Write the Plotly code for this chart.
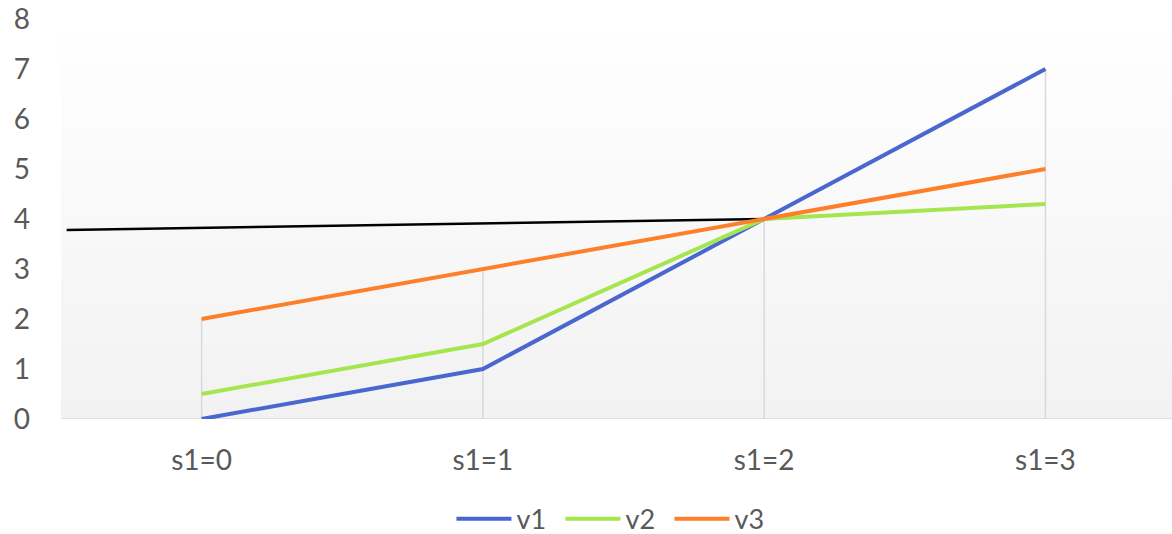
import plotly.graph_objects as go

categories = ["s1=0", "s1=1", "s1=2", "s1=3"]
v1 = [0, 1, 4, 7]
v2 = [0.5, 1.5, 4, 4.3]
v3 = [2, 3, 4, 5]
ref_x = [-0.48, 2]
ref_y = [3.78, 4.0]
y_ticks = [0, 1, 2, 3, 4, 5, 6, 7, 8]

colors = {"v1": "#4a66cf", "v2": "#a5e64f", "v3": "#fe7f29"}
font_color = "#595959"

xs = list(range(len(categories)))
fig = go.Figure()

# drop lines from highest value to axis
dx, dy = [], []
for i in xs:
    top = max(v1[i], v2[i], v3[i])
    dx += [i, i, None]
    dy += [0, top, None]
fig.add_trace(go.Scatter(x=dx, y=dy, mode="lines", line=dict(color="#d9d9d9", width=1.5),
                         showlegend=False, hoverinfo="skip"))

fig.add_trace(go.Scatter(x=ref_x, y=ref_y, mode="lines", line=dict(color="black", width=2.5),
                         showlegend=False))

for name, vals in (("v1", v1), ("v2", v2), ("v3", v3)):
    fig.add_trace(go.Scatter(x=xs, y=vals, mode="lines", name=name,
                             line=dict(color=colors[name], width=4)))

# gradient background
shapes = []
n = 80
ymax = 8
for k in range(n):
    y0 = ymax * k / n
    y1 = ymax * (k + 1) / n
    t = (k + 0.5) / n
    c = int(round(242 + (255 - 242) * t))
    shapes.append(dict(type="rect", xref="paper", yref="y", x0=0, x1=1, y0=y0, y1=y1,
                       fillcolor=f"rgb({c},{c},{c})", line=dict(width=0), layer="below"))

fig.update_layout(
    width=1172, height=534,
    margin=dict(l=61, r=0, t=19, b=115, autoexpand=False),
    paper_bgcolor="white", plot_bgcolor="white",
    font=dict(family="Lato", size=28, color=font_color),
    shapes=shapes,
    showlegend=True,
    legend=dict(orientation="h", x=0.4986, xanchor="center", y=-0.312, yanchor="bottom",
                font=dict(size=27, color=font_color), itemwidth=55, entrywidth=39,
                tracegroupgap=0, bgcolor="rgba(0,0,0,0)"),
    xaxis=dict(range=[-0.5, 3.45], tickvals=xs, ticktext=categories, showgrid=False,
               zeroline=False, showline=False, ticks="", ticklabelstandoff=22, automargin=False),
    yaxis=dict(range=[0, 8], tickvals=y_ticks, showgrid=False, zeroline=False,
               showline=False, ticks="", ticklabelstandoff=30, automargin=False),
)
# x axis baseline
fig.add_shape(type="line", xref="paper", yref="y", x0=0, x1=1, y0=0, y1=0,
              line=dict(color="#d9d9d9", width=1.5), layer="below")

fig.write_html("out.html")
